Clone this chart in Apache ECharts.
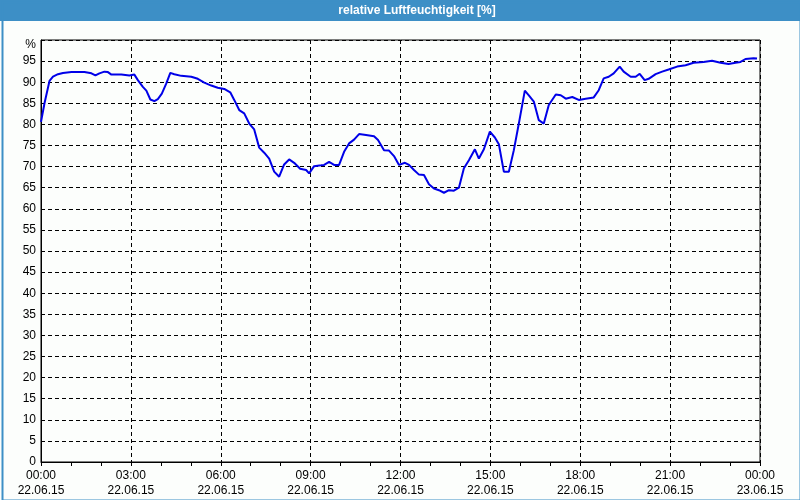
<!DOCTYPE html>
<html>
<head>
<meta charset="utf-8">
<script src="https://cdn.jsdelivr.net/npm/echarts@6/dist/echarts.min.js"></script>
<style>
html,body{margin:0;padding:0;background:#fcfefc;}
#c{width:800px;height:500px;}
</style>
</head>
<body>
<div id="c"></div>
<script>
// minutes since 22.06.15 00:00
var times = [
  0, 7, 17, 24, 34, 44, 61, 87, 101, 109,
  117, 127, 134, 141, 161, 177, 187, 194, 204, 211,
  219, 227, 234, 242, 251, 259, 267, 281, 301, 314,
  327, 341, 354, 367, 379, 387, 397, 407, 417, 427,
  437, 447, 457, 467, 477, 487, 497, 507, 519, 531,
  537, 547, 561, 567, 577, 587, 597, 607, 617, 627,
  637, 651, 667, 675, 687, 697, 707, 717, 729, 737,
  747, 757, 767, 777, 787, 797, 807, 817, 827, 837,
  847, 857, 869, 877, 887, 899, 909, 917, 927, 937,
  947, 957, 969, 977, 987, 997, 1007, 1017, 1031, 1041,
  1051, 1064, 1077, 1091, 1107, 1117, 1127, 1137, 1147, 1159,
  1167, 1181, 1191, 1199, 1209, 1217, 1231, 1244, 1257, 1274,
  1291, 1307, 1327, 1344, 1361, 1377, 1391, 1401, 1411, 1427,
  1434
];
var humidity = [
  80.6, 85.0, 90.3, 91.3, 91.9, 92.2, 92.4, 92.4, 92.1, 91.6,
  92.1, 92.5, 92.4, 91.8, 91.8, 91.6, 91.8, 90.5, 88.9, 88.0,
  85.9, 85.5, 86.0, 87.3, 89.7, 92.2, 91.9, 91.5, 91.3, 90.8,
  89.9, 89.2, 88.7, 88.4, 87.6, 85.8, 83.4, 82.6, 80.2, 78.8,
  74.5, 73.3, 71.9, 68.8, 67.6, 70.5, 71.7, 70.9, 69.5, 69.2,
  68.4, 70.1, 70.3, 70.4, 71.1, 70.4, 70.4, 73.5, 75.5, 76.4,
  77.7, 77.5, 77.2, 76.3, 73.9, 73.8, 72.5, 70.4, 70.9, 70.4,
  69.2, 68.1, 68.0, 65.8, 64.8, 64.4, 63.8, 64.4, 64.3, 65.0,
  69.6, 71.5, 74.1, 71.9, 74.1, 78.3, 76.9, 75.3, 68.8, 68.8,
  73.9, 80.2, 88.0, 86.9, 85.4, 81.0, 80.2, 84.6, 87.1, 86.9,
  86.1, 86.5, 85.8, 86.1, 86.4, 88.1, 90.9, 91.3, 92.1, 93.7,
  92.5, 91.3, 91.3, 92.0, 90.5, 90.8, 91.9, 92.5, 93.0, 93.7,
  94.0, 94.6, 94.8, 95.1, 94.6, 94.3, 94.6, 94.8, 95.5, 95.7,
  95.6
];
var dateLabels = ['22.06.15', '23.06.15'];
var titleText = 'relative Luftfeuchtigkeit [%]';
var unitText = '%';

var data = times.map(function (t, i) { return [t, humidity[i]]; });
function pad(n) { return (n < 10 ? '0' : '') + n; }

var chart = echarts.init(document.getElementById('c'), null, {renderer: 'canvas'});
var fontFam = 'Liberation Sans, Arial, sans-serif';
chart.setOption({
  backgroundColor: '#fcfefc',
  animation: false,
  graphic: [
    {type: 'rect', left: 0, top: 0, shape: {width: 800, height: 21}, style: {fill: '#3d8fc6'}, z: 10},
    {type: 'rect', left: 0, top: 0, shape: {x: 1, y: 1, width: 798, height: 498}, style: {fill: 'none', stroke: '#3d8fc6', lineWidth: 2}, z: 10},
    {type: 'text', x: 417, y: 11, style: {text: titleText, fill: '#ffffff', font: 'bold 12px ' + fontFam, align: 'center', verticalAlign: 'middle'}, z: 11}
  ],
  grid: {left: 41, right: 40, top: 40, bottom: 38, show: true, borderColor: '#000', borderWidth: 1, backgroundColor: 'transparent'},
  xAxis: {
    type: 'value', min: 0, max: 1440, interval: 180,
    axisLine: {show: true, lineStyle: {color: '#000', width: 1}},
    axisTick: {show: true, length: 4, lineStyle: {color: '#000'}},
    minorTick: {show: true, splitNumber: 3, length: 4, lineStyle: {color: '#000'}},
    minorSplitLine: {show: false},
    splitLine: {show: true, lineStyle: {color: '#000', type: [4, 3], width: 1}},
    axisLabel: {
      color: '#000', fontFamily: fontFam, fontSize: 12, lineHeight: 15, margin: 6,
      formatter: function (v) {
        var d = Math.floor(v / 1440);
        var m = v - d * 1440;
        return pad(Math.floor(m / 60)) + ':' + pad(m % 60) + '\n' + dateLabels[d];
      }
    }
  },
  yAxis: {
    type: 'value', min: 0, max: 100, interval: 5,
    name: unitText, nameLocation: 'end', nameGap: -5,
    nameTextStyle: {color: '#000', fontFamily: fontFam, fontSize: 12, align: 'right', verticalAlign: 'middle', padding: [0, 5, 0, 0]},
    axisLine: {show: true, lineStyle: {color: '#000', width: 1}},
    axisTick: {show: false},
    splitLine: {show: true, lineStyle: {color: '#000', type: [4, 3], width: 1}},
    axisLabel: {
      color: '#000', fontFamily: fontFam, fontSize: 12, margin: 5,
      formatter: function (v) { return v === 100 ? '' : String(v); }
    }
  },
  series: [{
    type: 'line', data: data, showSymbol: false, symbol: 'none',
    lineStyle: {color: '#0000e8', width: 2}, z: 5
  }]
});
</script>
</body>
</html>
